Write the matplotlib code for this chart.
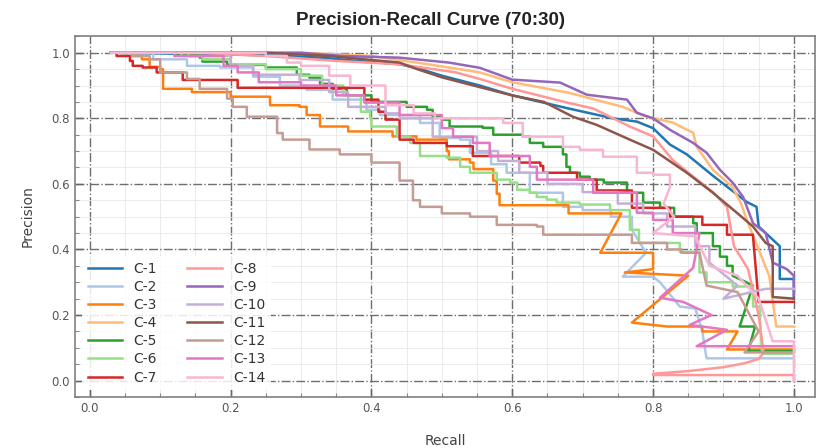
import numpy as np
import matplotlib
matplotlib.use('Agg')
import matplotlib.pyplot as plt
from matplotlib.ticker import MultipleLocator

# (recall, precision) vertices per class; "steps" are drawn as a post-step staircase
# (or joined directly for the smoother high-scoring classes), "tail" points are joined directly
labels = ['C-%d' % i for i in range(1, 15)]
stepped = [False, True, True, False, True, True, True, False, False, True, False, True, True, True]

c1_steps = [(0.03, 1.0), (0.20, 0.995), (0.28, 0.99), (0.33, 0.985), (0.38, 0.975), (0.44, 0.965),
            (0.47, 0.95), (0.50, 0.93), (0.554, 0.90), (0.60, 0.87), (0.64, 0.85), (0.68, 0.83),
            (0.743, 0.80), (0.777, 0.79), (0.80, 0.77), (0.824, 0.72), (0.848, 0.69), (0.885, 0.625),
            (0.909, 0.585), (0.933, 0.545), (0.947, 0.53), (0.95, 0.47), (0.965, 0.44), (0.98, 0.41)]
c1_tail = [(0.98, 0.31), (1.0, 0.31), (1.0, 0.25)]

c2_steps = [(0.03, 1.0), (0.09, 0.98), (0.132, 0.98), (0.138, 0.96), (0.185, 0.955), (0.232, 0.927),
            (0.27, 0.90), (0.308, 0.887), (0.345, 0.857), (0.393, 0.826), (0.412, 0.81), (0.469, 0.786),
            (0.497, 0.74), (0.526, 0.735), (0.54, 0.695), (0.57, 0.66), (0.592, 0.634), (0.625, 0.573),
            (0.672, 0.53), (0.70, 0.52), (0.74, 0.50), (0.77, 0.46)]
c2_tail = [(0.79, 0.39), (0.757, 0.317), (0.80, 0.317), (0.81, 0.30), (0.838, 0.226), (0.86, 0.22),
           (0.87, 0.15), (0.876, 0.068), (1.0, 0.068)]

c3_steps = [(0.03, 1.0), (0.06, 0.99), (0.074, 0.98), (0.085, 0.957), (0.10, 0.95), (0.104, 0.89),
            (0.142, 0.89), (0.145, 0.88), (0.195, 0.88), (0.20, 0.866), (0.25, 0.866), (0.256, 0.84),
            (0.298, 0.835), (0.308, 0.81), (0.327, 0.775), (0.367, 0.76), (0.42, 0.76), (0.43, 0.745),
            (0.464, 0.735), (0.507, 0.70), (0.51, 0.675), (0.54, 0.665), (0.545, 0.645), (0.573, 0.61),
            (0.578, 0.57), (0.582, 0.535), (0.68, 0.535), (0.68, 0.51)]
c3_tail = [(0.755, 0.51), (0.725, 0.39), (0.80, 0.39), (0.80, 0.34), (0.76, 0.33), (0.85, 0.32),
           (0.77, 0.177), (0.82, 0.165), (0.87, 0.165), (0.87, 0.15), (0.92, 0.15), (0.905, 0.095),
           (1.0, 0.095)]

c4_steps = [(0.03, 1.0), (0.30, 1.0), (0.40, 0.99), (0.48, 0.965), (0.554, 0.94), (0.60, 0.91),
            (0.68, 0.878), (0.757, 0.835), (0.79, 0.805), (0.828, 0.787), (0.857, 0.756), (0.862, 0.713),
            (0.885, 0.643), (0.913, 0.59), (0.925, 0.54), (0.935, 0.48), (0.95, 0.40), (0.965, 0.32),
            (0.975, 0.165)]
c4_tail = [(1.0, 0.165)]

c5_steps = [(0.03, 1.0), (0.12, 0.995), (0.156, 0.985), (0.16, 0.973), (0.19, 0.973), (0.195, 0.963),
            (0.25, 0.955), (0.294, 0.933), (0.312, 0.924), (0.327, 0.905), (0.345, 0.89), (0.365, 0.87),
            (0.40, 0.85), (0.44, 0.85), (0.45, 0.835), (0.479, 0.826), (0.487, 0.805), (0.50, 0.796),
            (0.511, 0.775), (0.558, 0.771), (0.573, 0.75), (0.615, 0.744), (0.625, 0.725), (0.644, 0.713),
            (0.672, 0.69), (0.677, 0.652), (0.682, 0.634), (0.696, 0.622), (0.71, 0.613), (0.73, 0.604),
            (0.763, 0.573), (0.786, 0.543), (0.81, 0.527), (0.83, 0.50), (0.857, 0.48), (0.862, 0.45),
            (0.885, 0.41), (0.895, 0.378), (0.905, 0.35), (0.913, 0.32)]
c5_tail = [(0.942, 0.29), (0.923, 0.165), (0.945, 0.165), (0.935, 0.09), (1.0, 0.09)]

c6_steps = [(0.03, 1.0), (0.14, 0.99), (0.16, 0.98), (0.20, 0.965), (0.25, 0.95), (0.30, 0.93),
            (0.33, 0.90), (0.36, 0.87), (0.385, 0.82), (0.398, 0.80), (0.40, 0.775), (0.436, 0.744),
            (0.455, 0.725), (0.469, 0.685), (0.507, 0.68), (0.526, 0.652), (0.54, 0.634), (0.578, 0.613),
            (0.597, 0.604), (0.607, 0.582), (0.625, 0.573), (0.635, 0.56), (0.649, 0.552), (0.663, 0.543),
            (0.696, 0.537), (0.739, 0.52), (0.767, 0.46), (0.78, 0.42), (0.80, 0.42), (0.838, 0.393),
            (0.866, 0.33), (0.876, 0.30), (0.913, 0.287), (0.942, 0.226), (0.952, 0.177)]
c6_tail = [(0.955, 0.082), (1.0, 0.082)]

c7_steps = [(0.03, 1.0), (0.038, 0.99), (0.057, 0.975), (0.061, 0.96), (0.075, 0.955), (0.095, 0.94),
            (0.132, 0.917), (0.20, 0.917), (0.21, 0.893), (0.39, 0.893), (0.39, 0.857), (0.40, 0.857),
            (0.41, 0.82), (0.42, 0.796), (0.44, 0.765), (0.44, 0.735), (0.46, 0.725), (0.507, 0.715),
            (0.544, 0.685), (0.607, 0.685), (0.61, 0.665), (0.64, 0.655), (0.644, 0.634), (0.672, 0.634),
            (0.692, 0.613), (0.72, 0.58), (0.77, 0.527), (0.82, 0.527), (0.824, 0.50), (0.866, 0.50),
            (0.87, 0.475), (0.90, 0.475), (0.905, 0.445), (0.942, 0.44)]
c7_tail = [(0.95, 0.24), (1.0, 0.24)]

c8_steps = [(0.03, 1.0), (0.15, 1.0), (0.25, 0.99), (0.35, 0.975), (0.44, 0.965), (0.52, 0.94),
            (0.554, 0.92), (0.60, 0.89), (0.68, 0.847), (0.715, 0.83), (0.767, 0.775), (0.80, 0.745),
            (0.828, 0.673), (0.857, 0.622), (0.885, 0.575), (0.905, 0.53), (0.915, 0.41), (0.935, 0.34),
            (0.95, 0.20)]
c8_tail = [(0.957, 0.085), (0.95, 0.066), (0.93, 0.053), (0.90, 0.041), (0.85, 0.029), (0.80, 0.021),
           (0.80, 0.017), (1.0, 0.017), (1.0, 0.0)]

c9_steps = [(0.03, 1.0), (0.30, 1.0), (0.36, 0.99), (0.44, 0.985), (0.51, 0.97), (0.554, 0.954),
            (0.60, 0.918), (0.668, 0.909), (0.706, 0.872), (0.763, 0.857), (0.777, 0.817), (0.80, 0.80),
            (0.824, 0.765), (0.857, 0.725), (0.876, 0.695), (0.895, 0.643), (0.913, 0.604), (0.928, 0.56),
            (0.942, 0.48), (0.96, 0.45), (0.97, 0.36), (0.99, 0.34), (1.0, 0.32)]
c9_tail = [(1.0, 0.26)]

c10_steps = [(0.03, 1.0), (0.13, 0.99), (0.20, 0.96), (0.232, 0.933), (0.298, 0.917), (0.34, 0.88),
             (0.367, 0.835), (0.42, 0.815), (0.44, 0.80), (0.487, 0.744), (0.53, 0.744), (0.55, 0.70),
             (0.58, 0.67), (0.61, 0.634), (0.65, 0.60), (0.70, 0.575), (0.75, 0.54), (0.786, 0.51),
             (0.82, 0.47), (0.86, 0.41), (0.88, 0.36)]
c10_tail = [(0.92, 0.29), (0.90, 0.25), (0.96, 0.28), (1.0, 0.28)]

c11_steps = [(0.03, 1.0), (0.25, 1.0), (0.34, 0.99), (0.44, 0.97), (0.465, 0.95), (0.50, 0.925),
             (0.554, 0.895), (0.60, 0.87), (0.645, 0.85), (0.686, 0.805), (0.72, 0.78), (0.767, 0.735),
             (0.80, 0.704), (0.848, 0.634), (0.885, 0.573), (0.919, 0.512), (0.942, 0.47), (0.96, 0.42),
             (0.97, 0.41), (0.97, 0.255)]
c11_tail = [(1.0, 0.25)]

c12_steps = [(0.03, 1.0), (0.06, 0.99), (0.085, 0.98), (0.10, 0.94), (0.138, 0.92), (0.156, 0.89),
             (0.195, 0.86), (0.203, 0.835), (0.223, 0.805), (0.266, 0.755), (0.274, 0.735), (0.312, 0.705),
             (0.355, 0.69), (0.393, 0.69), (0.40, 0.665), (0.44, 0.61), (0.459, 0.55), (0.469, 0.53),
             (0.50, 0.51), (0.54, 0.50), (0.578, 0.475), (0.635, 0.47), (0.644, 0.445), (0.724, 0.445),
             (0.77, 0.42), (0.82, 0.40), (0.84, 0.39), (0.866, 0.39)]
c12_tail = [(0.876, 0.29), (0.92, 0.27), (0.95, 0.15), (0.93, 0.086), (1.0, 0.086)]

c13_steps = [(0.03, 1.0), (0.12, 0.99), (0.19, 0.96), (0.21, 0.94), (0.24, 0.91), (0.30, 0.90),
             (0.35, 0.87), (0.39, 0.848), (0.44, 0.81), (0.47, 0.81), (0.50, 0.77), (0.516, 0.744),
             (0.544, 0.725), (0.568, 0.685), (0.625, 0.652), (0.635, 0.613), (0.696, 0.613), (0.715, 0.573),
             (0.777, 0.512), (0.80, 0.49), (0.828, 0.45), (0.866, 0.45)]
c13_tail = [(0.857, 0.344), (0.81, 0.253), (0.843, 0.24), (0.883, 0.20), (0.852, 0.17), (0.905, 0.155),
            (0.862, 0.105), (1.0, 0.105)]

c14_steps = [(0.03, 1.0), (0.25, 0.99), (0.28, 0.97), (0.30, 0.96), (0.34, 0.93), (0.37, 0.90),
             (0.42, 0.84), (0.46, 0.815), (0.49, 0.80), (0.53, 0.80), (0.587, 0.786), (0.615, 0.744),
             (0.672, 0.713), (0.696, 0.704), (0.729, 0.683), (0.777, 0.634), (0.80, 0.628), (0.824, 0.59)]
c14_tail = [(0.815, 0.54), (0.83, 0.50), (0.80, 0.45), (0.86, 0.44), (0.88, 0.35), (0.92, 0.32),
            (0.95, 0.25), (0.97, 0.12), (1.0, 0.12), (1.0, 0.0)]

curves = [(c1_steps, c1_tail), (c2_steps, c2_tail), (c3_steps, c3_tail), (c4_steps, c4_tail),
          (c5_steps, c5_tail), (c6_steps, c6_tail), (c7_steps, c7_tail), (c8_steps, c8_tail),
          (c9_steps, c9_tail), (c10_steps, c10_tail), (c11_steps, c11_tail), (c12_steps, c12_tail),
          (c13_steps, c13_tail), (c14_steps, c14_tail)]


def curve_path(steps, tail, stair):
    xs, ys = [], []
    for i, (r, p) in enumerate(steps):
        xs.append(r)
        ys.append(p)
        if stair and i + 1 < len(steps):
            xs.append(steps[i + 1][0])
            ys.append(p)
    for r, p in tail:
        xs.append(r)
        ys.append(p)
    return xs, ys


colors = plt.cm.tab20.colors

fig = plt.figure(figsize=(8.18, 4.48), dpi=100)
ax = fig.add_axes([0.0917, 0.1138, 0.9046, 0.8058])

for i, (steps, tail) in enumerate(curves):
    xs, ys = curve_path(steps, tail, stepped[i])
    ax.plot(xs, ys, color=colors[i], lw=1.8, label=labels[i])

ax.set_xlim(-0.021, 1.03)
ax.set_ylim(-0.05, 1.051)
ax.xaxis.set_major_locator(MultipleLocator(0.2))
ax.yaxis.set_major_locator(MultipleLocator(0.2))
ax.xaxis.set_minor_locator(MultipleLocator(0.05))
ax.yaxis.set_minor_locator(MultipleLocator(0.05))

ax.set_axisbelow(True)
ax.grid(which='major', linestyle='-.', color='#6e6e6e', linewidth=1.0)
ax.grid(which='minor', linestyle='-', color='#e8e8e8', linewidth=0.6)

ax.tick_params(which='major', direction='in', length=6, width=1, color='#666666',
               labelcolor='#555555', labelsize=8.5)
ax.tick_params(which='minor', direction='in', length=3, width=0.8, color='#888888')
for sp in ax.spines.values():
    sp.set_color('#808080')
    sp.set_linewidth(1.2)

ax.set_title('Precision-Recall Curve (70:30)', fontsize=13.5, fontweight='bold', color='#222222',
             family='Liberation Sans', pad=8, x=0.48)
ax.set_xlabel('Recall', fontsize=10, color='#444444', labelpad=14)
ax.set_ylabel('Precision', fontsize=10, color='#444444', labelpad=12)

leg = ax.legend(loc='lower left', ncol=2, fontsize=10, labelspacing=0.3, handlelength=2.5,
                handletextpad=0.8, columnspacing=2.2, framealpha=0.85, edgecolor='none',
                borderaxespad=0.5, fancybox=False)
for t in leg.get_texts():
    t.set_color('#333333')

fig.savefig('out.png', dpi=100)
